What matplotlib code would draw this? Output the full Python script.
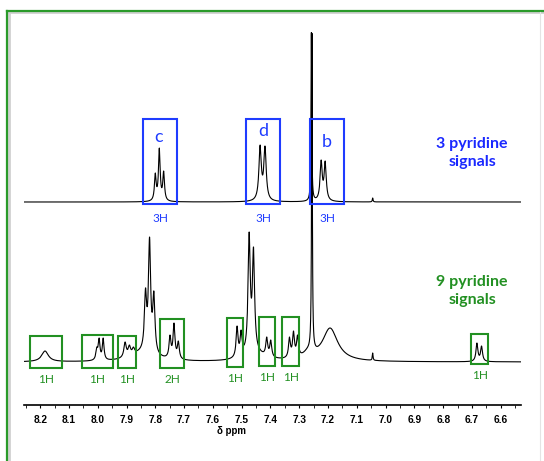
import numpy as np
import matplotlib
matplotlib.use("Agg")
import matplotlib.pyplot as plt
from matplotlib.patches import Rectangle
from matplotlib.lines import Line2D
from matplotlib.ticker import MultipleLocator, FormatStrFormatter

# ---------------- data ----------------
# upper spectrum: peak positions (ppm), apparent heights, half-widths (ppm)
top_ppm = [7.800, 7.786, 7.771, 7.436, 7.419, 7.224, 7.210, 7.258, 7.045]
top_h   = [29, 54, 31, 57, 56, 42, 41, 170, 4]
top_w   = [0.0035, 0.0035, 0.0035, 0.005, 0.005, 0.0044, 0.0044, 0.0015, 0.0015]

# lower spectrum
bot_ppm = [8.183, 8.003, 7.995, 7.981, 7.905, 7.890, 7.876,
           7.834, 7.820, 7.805, 7.749, 7.735, 7.720,
           7.516, 7.502, 7.474, 7.459, 7.413, 7.399,
           7.334, 7.320, 7.306, 7.256, 7.193, 7.045, 6.683, 6.667]
bot_h   = [11, 15, 24, 24, 20, 17, 15,
           74, 125, 71, 27, 39, 21,
           36, 32, 130, 115, 25, 22,
           25, 31, 27, 330, 34, 9, 19, 16]
bot_w   = [0.014, 0.004, 0.0035, 0.0035, 0.005, 0.005, 0.005,
           0.0045, 0.0045, 0.0045, 0.004, 0.004, 0.004,
           0.004, 0.004, 0.0045, 0.0045, 0.004, 0.004,
           0.004, 0.004, 0.004, 0.0015, 0.032, 0.0015, 0.004, 0.004]
# broad underlying humps of the lower spectrum
hump_ppm = [7.845, 7.455, 7.27]
hump_h   = [8, 7, 6]
hump_w   = [0.05, 0.04, 0.02]

top_offset = 203
bot_offset = 43

# boxes: (ppm_left, ppm_right, label)
blue_boxes = [(7.842, 7.724, "c", "3H"), (7.486, 7.366, "d", "3H"), (7.262, 7.143, "b", "3H")]
green_boxes = [(8.235, 8.124, "1H"), (8.056, 7.946, "1H"), (7.928, 7.866, "1H"),
               (7.782, 7.700, "2H"), (7.552, 7.494, "1H"), (7.441, 7.383, "1H"),
               (7.360, 7.300, "1H"), (6.703, 6.644, "1H")]
green_box_ybot = [37, 37, 37, 37, 38, 39, 39, 41]
green_box_ytop = [69, 70, 69, 86, 87, 88, 88, 71]

xticks = [8.2, 8.1, 8.0, 7.9, 7.8, 7.7, 7.6, 7.5, 7.4, 7.3, 7.2, 7.1, 7.0, 6.9, 6.8, 6.7, 6.6]

BLUE = "#1f3cff"
BLUE_TXT = "#1a28ff"
GREEN = "#229022"


def lor(x, p, a, w):
    return a / (1.0 + ((x - p) / w) ** 2)


def spectrum(x, ppm, h, w, offset, hp=(), hh=(), hw=()):
    ppm = np.asarray(ppm); h = np.asarray(h, float); w = np.asarray(w)
    base_at_peaks = np.zeros(len(ppm))
    base = np.zeros_like(x)
    for p, a, ww in zip(hp, hh, hw):
        base_at_peaks += lor(ppm, p, a, ww)
        base += lor(x, p, a, ww)
    A = 1.0 / (1.0 + ((ppm[:, None] - ppm[None, :]) / w[None, :]) ** 2)
    amps = np.clip(np.linalg.solve(A, np.clip(h - base_at_peaks, 0, None)), 0, None)
    y = base.copy()
    for p, a, ww in zip(ppm, amps, w):
        y += lor(x, p, a, ww)
    return y + offset


plt.rcParams["font.family"] = ["Lato", "DejaVu Sans"]

fig = plt.figure(figsize=(5.44, 4.61), dpi=100)
fig.patch.set_facecolor("white")

# frame (green, with soft shadow)
W, H = 544, 461
def fx(px): return px / W
def fy(py): return 1 - py / H
for dx, col, lw in [(1.5, "#d0d0d0", 2.0), (0, "#2a9a2a", 1.6)]:
    fig.add_artist(Line2D([fx(7 + dx), fx(7 + dx)], [fy(11 + dx), 0], color=col, lw=lw))
    fig.add_artist(Line2D([fx(7 + dx), 1], [fy(11 + dx), fy(11 + dx)], color=col, lw=lw))
fig.add_artist(Line2D([fx(540), fx(540)], [fy(12), 0], color="#e4e4e4", lw=0.8))

ax = fig.add_axes([24 / W, (H - 405) / H, (521 - 24) / W, 380 / H])
ax.set_xlim(8.256, 6.530)
ax.set_ylim(0, 380)
ax.patch.set_alpha(0)

x = np.linspace(6.530, 8.256, 6000)
ax.plot(x, spectrum(x, top_ppm, top_h, top_w, top_offset), color="black", lw=0.8)
ax.plot(x, spectrum(x, bot_ppm, bot_h, bot_w, bot_offset, hump_ppm, hump_h, hump_w),
        color="black", lw=0.8)

for l, r, lab, nh in blue_boxes:
    ax.add_patch(Rectangle((r, 201), l - r, 85, fill=False, ec=BLUE, lw=1.5, zorder=3))
    xc = (l + r) / 2
    ax.text(xc, 187, nh, color=BLUE, fontsize=8.5, ha="center", va="center")
ax.text(7.787, 268, "c", color=BLUE, fontsize=13, ha="center", va="center")
ax.text(7.426, 274, "d", color=BLUE, fontsize=13, ha="center", va="center")
ax.text(7.203, 263, "b", color=BLUE, fontsize=13, ha="center", va="center")

for (l, r, nh), yb, yt in zip(green_boxes, green_box_ybot, green_box_ytop):
    ax.add_patch(Rectangle((r, yb), l - r, yt - yb, fill=False, ec=GREEN, lw=1.5, zorder=3))
    ax.text((l + r) / 2, yb - 11, nh, color=GREEN, fontsize=8.5, ha="center", va="center")

ax.text(6.700, 252, "3 pyridine\nsignals", color=BLUE_TXT, fontsize=11.5, fontweight="bold",
        ha="center", va="center", linespacing=1.35)
ax.text(6.700, 114, "9 pyridine\nsignals", color=GREEN, fontsize=11.5, fontweight="bold",
        ha="center", va="center", linespacing=1.35)

for s in ["left", "right", "top"]:
    ax.spines[s].set_visible(False)
ax.spines["bottom"].set_linewidth(1.2)
ax.set_yticks([])
ax.set_xticks(xticks)
ax.xaxis.set_major_formatter(FormatStrFormatter("%.1f"))
ax.xaxis.set_minor_locator(MultipleLocator(0.05))
ax.tick_params(axis="x", which="major", direction="out", length=2.5, width=0.8, pad=5)
ax.tick_params(axis="x", which="minor", direction="out", length=1.8, width=0.6)
for t in ax.get_xticklabels():
    t.set_fontfamily("Liberation Sans")
    t.set_fontweight("bold")
    t.set_fontsize(7.3)
ax.set_xlabel("δ ppm", fontsize=7, fontweight="bold", family=["Liberation Sans", "DejaVu Sans"])
ax.xaxis.set_label_coords(0.4165, -0.055)

fig.savefig("out.png", dpi=100, facecolor="white")
